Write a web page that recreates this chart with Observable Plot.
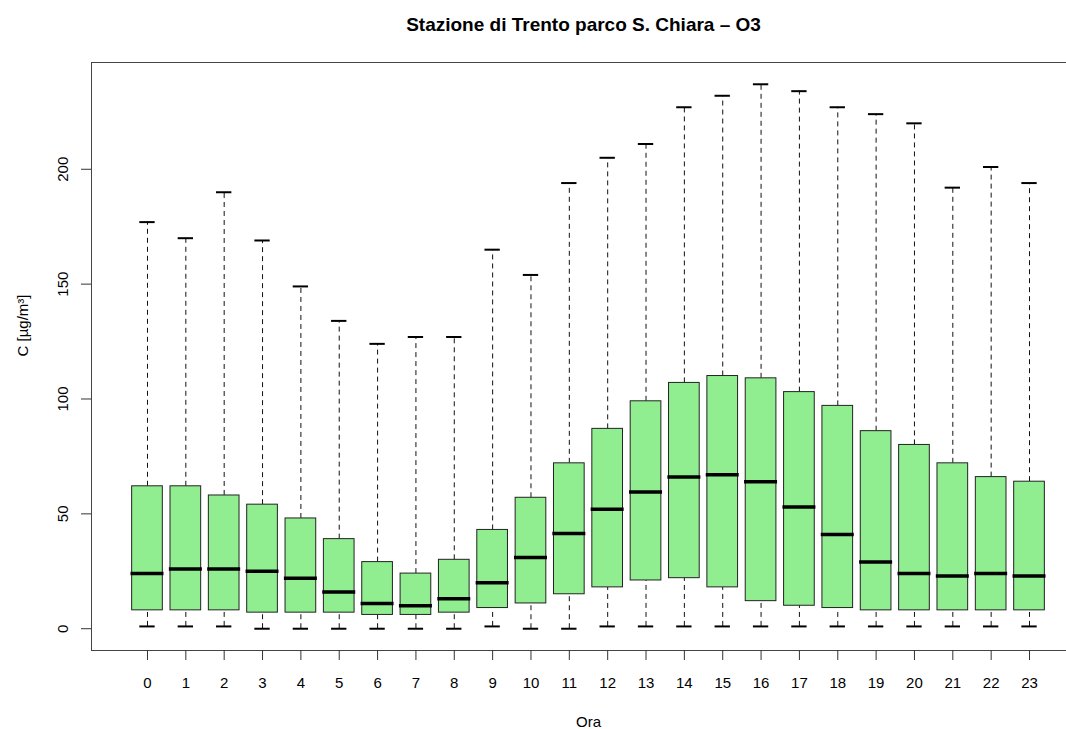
<!DOCTYPE html>
<html>
<head>
<meta charset="utf-8">
<script src="https://cdn.jsdelivr.net/npm/d3@7"></script>
<script src="https://cdn.jsdelivr.net/npm/@observablehq/plot@0.6"></script>
<style>
  html, body { margin: 0; padding: 0; background: #fff; overflow: hidden; }
  #chart { width: 1066px; height: 729px; overflow: hidden; }
  #chart svg { max-width: none !important; width: 1104px !important; height: 729px !important; display: block; }
</style>
</head>
<body>
<div id="chart"></div>
<script>
// Hour of day (x categories)
const hours = [0,1,2,3,4,5,6,7,8,9,10,11,12,13,14,15,16,17,18,19,20,21,22,23];
// Whisker ends, quartiles and medians (µg/m³)
const whiskerHigh = [177,170,190,169,149,134,124,127,127,165,154,194,205,211,227,232,237,234,227,224,220,192,201,194];
const q3          = [62,62,58,54,48,39,29,24,30,43,57,72,87,99,107,110,109,103,97,86,80,72,66,64];
const median      = [24,26,26,25,22,16,11,10,13,20,31,41.5,52,59.5,66,67,64,53,41,29,24,23,24,23];
const q1          = [8,8,8,7,7,7,6,6,7,9,11,15,18,21,22,18,12,10,9,8,8,8,8,8];
const whiskerLow  = [1,1,1,0,0,0,0,0,0,1,0,0,1,1,1,1,1,1,1,1,1,1,1,1];
const yTicks = [0,50,100,150,200];

const title = "Stazione di Trento parco S. Chiara – O3";
const xLabel = "Ora";
const yLabel = "C [µg/m³]";

const data = hours.map((h, i) => ({
  h, lo: whiskerLow[i], q1: q1[i], med: median[i], q3: q3[i], hi: whiskerHigh[i]
}));

const n = hours.length;
const pad = (n * 0.04) + 0.5;   // R style 4% expansion around 0.5..n+0.5
const yMax = d3.max(whiskerHigh), yMin = d3.min(whiskerLow);
const yPad = (yMax - yMin) * 0.04;

const font = "'Liberation Sans', Arial, Helvetica, sans-serif";

const chart = Plot.plot({
  width: 1104,
  height: 729,
  marginLeft: 91,
  marginRight: 19,
  marginTop: 62,
  marginBottom: 79,
  style: { fontFamily: font, fontSize: "15px", color: "black", background: "white", maxWidth: "none" },
  x: { domain: [hours[0] - pad, hours[n - 1] + pad] },
  y: { domain: [yMin - yPad, yMax + yPad] },
  marks: [
    // whiskers (dashed)
    Plot.ruleX(data, { x: "h", y1: "q3", y2: "hi", stroke: "#111", strokeWidth: 1, strokeDasharray: "5,4" }),
    Plot.ruleX(data, { x: "h", y1: "lo", y2: "q1", stroke: "#111", strokeWidth: 1, strokeDasharray: "5,4" }),
    // staples
    Plot.ruleY(data, { y: "hi", x1: d => d.h - 0.2, x2: d => d.h + 0.2, stroke: "black", strokeWidth: 2 }),
    Plot.ruleY(data, { y: "lo", x1: d => d.h - 0.2, x2: d => d.h + 0.2, stroke: "black", strokeWidth: 2 }),
    // boxes
    Plot.rect(data, { x1: d => d.h - 0.4, x2: d => d.h + 0.4, y1: "q1", y2: "q3", fill: "#90EE90", stroke: "#222", strokeWidth: 1 }),
    // medians
    Plot.ruleY(data, { y: "med", x1: d => d.h - 0.43, x2: d => d.h + 0.43, stroke: "black", strokeWidth: 3.5 }),
    // frame
    Plot.frame({ stroke: "#444", strokeWidth: 1 }),
    // axes
    Plot.axisX(hours, { tickSize: 10, tickPadding: 17, fontSize: 15, label: null, stroke: "#333" }),
    Plot.axisY(yTicks, { tickSize: 10, tickPadding: 14, tickRotate: -90, fontSize: 15, label: null, stroke: "#333" }),
    // titles
    Plot.text([title], { frameAnchor: "top", lineAnchor: "bottom", dy: -32, dx: -5, fontWeight: "bold", fontSize: 19, fill: "black" }),
    Plot.text([xLabel], { frameAnchor: "bottom", lineAnchor: "top", dy: 66, fontSize: 15, fill: "black" }),
    Plot.text([yLabel], { frameAnchor: "left", rotate: -90, dx: -68, fontSize: 15, fill: "black" })
  ]
});

document.getElementById("chart").appendChild(chart);
</script>
</body>
</html>
